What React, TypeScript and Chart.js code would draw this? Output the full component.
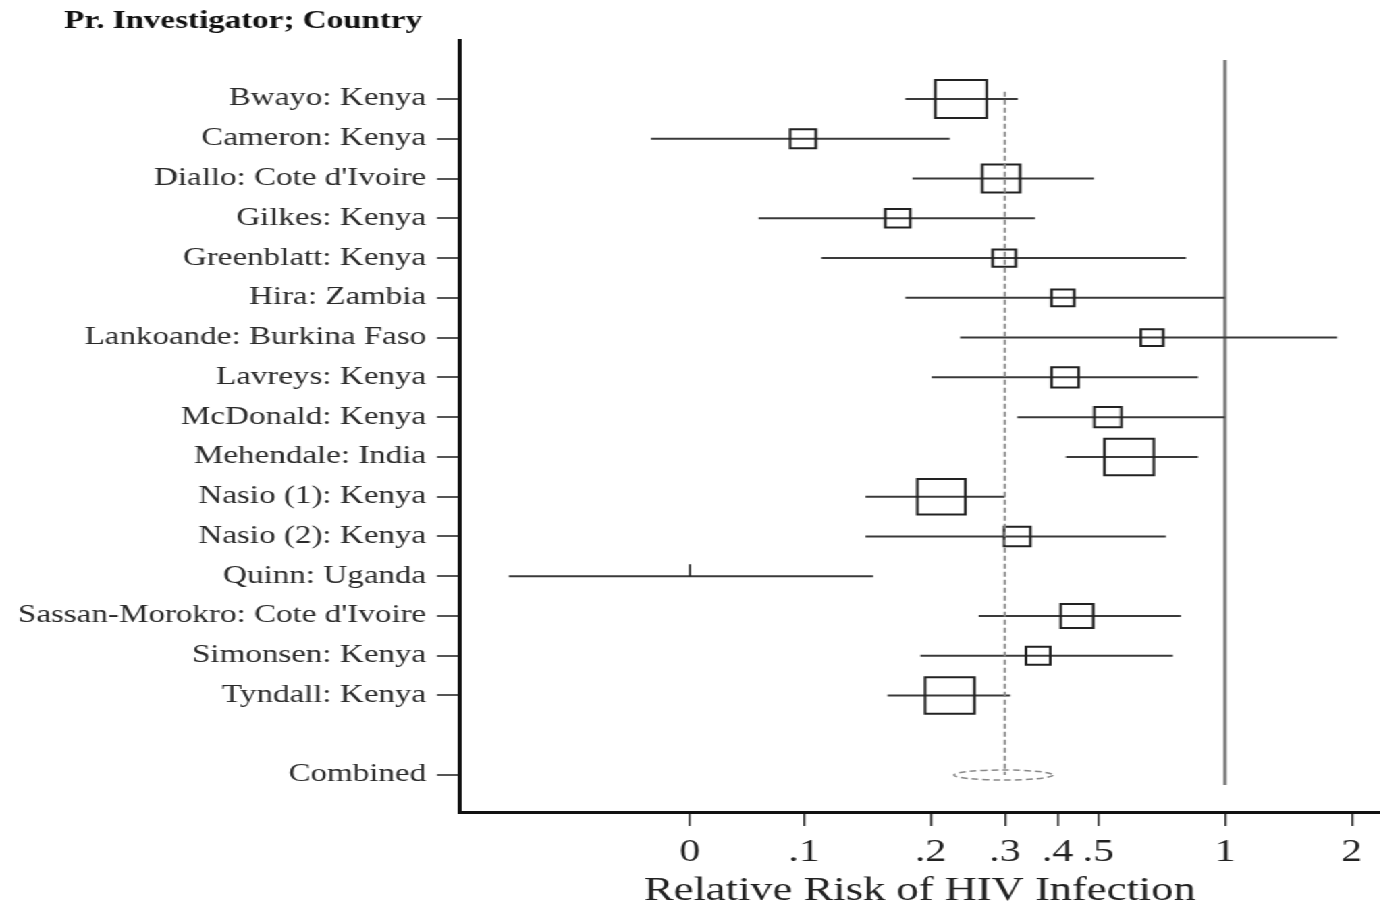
import React, { useEffect, useRef } from "react";
import { Chart, registerables } from "chart.js";

Chart.register(...registerables);

// ---------- data ----------
const studies = [
  "Bwayo: Kenya",
  "Cameron: Kenya",
  "Diallo: Cote d'Ivoire",
  "Gilkes: Kenya",
  "Greenblatt: Kenya",
  "Hira: Zambia",
  "Lankoande: Burkina Faso",
  "Lavreys: Kenya",
  "McDonald: Kenya",
  "Mehendale: India",
  "Nasio (1): Kenya",
  "Nasio (2): Kenya",
  "Quinn: Uganda",
  "Sassan-Morokro: Cote d'Ivoire",
  "Simonsen: Kenya",
  "Tyndall: Kenya",
];
const relRisk = [0.236, 0.0995, 0.294, 0.167, 0.299, 0.412, 0.671, 0.417, 0.527, 0.592, 0.212, 0.321, 0, 0.445, 0.36, 0.222];
const ciLow = [0.174, 0.0433, 0.181, 0.078, 0.11, 0.174, 0.235, 0.201, 0.321, 0.419, 0.14, 0.14, 0.0199, 0.26, 0.189, 0.158];
const ciHigh = [0.322, 0.222, 0.488, 0.354, 0.808, 1.0, 1.845, 0.863, 1.0, 0.863, 0.3, 0.724, 0.146, 0.786, 0.752, 0.309];
const weights = [14.8, 3.7, 8.0, 3.5, 3.0, 2.9, 2.8, 4.1, 4.1, 13.6, 12.9, 3.9, 0.0, 5.9, 3.3, 13.6];

const combinedLabel = "Combined";
const combinedRR = 0.3;
const combinedLow = 0.227;
const combinedHigh = 0.39;

const xTickValues = [0, 0.1, 0.2, 0.3, 0.4, 0.5, 1, 2];
const xTickLabels = ["0", ".1", ".2", ".3", ".4", ".5", "1", "2"];
const ZERO_AT = 0.0536; // where the "0" label sits on the log axis

const headerText = "Pr. Investigator; Country";
const xTitle = "Relative Risk of HIV Infection";

// ---------- helpers ----------
const pos = (v: number) => (v <= 0 ? ZERO_AT : v);
const rowOf = (i: number) => i + 1;
const combinedRow = studies.length + 2;
const rowTicks = [...studies.map((_, i) => rowOf(i)), combinedRow];
const rowLabels = [...studies, combinedLabel];

const S = 1.35; // horizontal stretch of the original figure
const W = Math.round(1380 / S);
const H = 906;
const FONT = "'Liberation Serif', 'Times New Roman', serif";
const BOX_K = 9.9;

const headerPlugin = {
  id: "header",
  afterDraw(chart: any) {
    const { ctx } = chart;
    const yScale = chart.scales.y;
    ctx.save();
    ctx.font = `bold 24.5px ${FONT}`;
    ctx.fillStyle = "#111";
    ctx.textAlign = "right";
    ctx.textBaseline = "alphabetic";
    ctx.fillText(headerText, yScale.right - 28, 28);
    ctx.restore();
  },
};

const combinedPlugin = {
  id: "combinedEllipse",
  afterDatasetsDraw(chart: any) {
    const { ctx } = chart;
    const xs = chart.scales.x;
    const ys = chart.scales.y;
    const x1 = xs.getPixelForValue(combinedLow);
    const x2 = xs.getPixelForValue(combinedHigh);
    const cy = ys.getPixelForValue(combinedRow);
    ctx.save();
    ctx.beginPath();
    ctx.setLineDash([5, 3]);
    ctx.strokeStyle = "#888";
    ctx.lineWidth = 1.5;
    ctx.ellipse((x1 + x2) / 2, cy, (x2 - x1) / 2, 5, 0, 0, Math.PI * 2);
    ctx.stroke();
    ctx.restore();
  },
};

export default function App() {
  const ref = useRef<HTMLCanvasElement | null>(null);

  useEffect(() => {
    if (!ref.current) return;
    Chart.defaults.font.family = FONT;

    const ciSets = studies.map((_, i) => ({
      type: "scatter" as const,
      data: [
        { x: pos(ciLow[i]), y: rowOf(i) },
        { x: pos(ciHigh[i]), y: rowOf(i) },
      ],
      showLine: true,
      borderColor: "#3a3a3a",
      borderWidth: 2,
      pointRadius: 0,
      order: 3,
    }));

    const boxIdx = studies.map((_, i) => i).filter((i) => weights[i] > 0);
    const boxSet = {
      type: "scatter" as const,
      data: boxIdx.map((i) => ({ x: pos(relRisk[i]), y: rowOf(i) })),
      pointStyle: "rect",
      pointRadius: boxIdx.map((i) => (BOX_K * Math.sqrt(weights[i])) / Math.SQRT2),
      backgroundColor: "rgba(0,0,0,0)",
      borderColor: "#222",
      borderWidth: 2,
      order: 2,
    };

    const zeroIdx = studies.map((_, i) => i).filter((i) => weights[i] <= 0);
    const zeroSet = {
      type: "scatter" as const,
      data: zeroIdx.map((i) => ({ x: pos(relRisk[i]), y: rowOf(i) })),
      pointStyle: "dash",
      rotation: -90,
      pointRadius: 12,
      borderColor: "#222",
      borderWidth: 1.6,
      order: 2,
    };

    const nullLine = {
      type: "scatter" as const,
      data: [
        { x: 1, y: 0.02 },
        { x: 1, y: combinedRow + 0.25 },
      ],
      showLine: true,
      borderColor: "#777",
      borderWidth: 2.4,
      pointRadius: 0,
      order: 4,
    };

    const pooledLine = {
      type: "scatter" as const,
      data: [
        { x: combinedRR, y: 0.82 },
        { x: combinedRR, y: combinedRow },
      ],
      showLine: true,
      borderColor: "#888",
      borderWidth: 1.6,
      borderDash: [5, 3],
      pointRadius: 0,
      order: 1,
    };

    const chart = new Chart(ref.current, {
      type: "scatter",
      data: { datasets: [...ciSets, boxSet, zeroSet, nullLine, pooledLine] as any },
      options: {
        responsive: false,
        animation: false,
        events: [],
        layout: { autoPadding: false, padding: { top: 40, left: 0, right: 0, bottom: 0 } },
        plugins: {
          legend: { display: false },
          tooltip: { enabled: false },
          title: { display: false },
        },
        scales: {
          x: {
            type: "logarithmic",
            min: 0.01524,
            max: 2.331,
            afterBuildTicks: (scale: any) => {
              scale.ticks = xTickValues.map((v) => ({ value: pos(v) }));
            },
            afterFit: (scale: any) => {
              scale.height = 94;
            },
            ticks: {
              autoSkip: false,
              maxRotation: 0,
              minRotation: 0,
              padding: 8,
              color: "#222",
              font: { size: 31, family: FONT },
              callback: (_v: any, i: number) => xTickLabels[i],
            },
            grid: {
              display: true,
              drawOnChartArea: false,
              drawTicks: true,
              tickLength: 14,
              color: "#333",
              lineWidth: 1.5,
            },
            border: { display: true, color: "#111", width: 3 },
            title: {
              display: true,
              text: xTitle,
              color: "#222",
              font: { size: 33, family: FONT, lineHeight: 0.9 },
              padding: { top: 0, bottom: 0 },
            },
          },
          y: {
            type: "linear",
            reverse: true,
            min: -0.484,
            max: 18.93,
            afterBuildTicks: (scale: any) => {
              scale.ticks = rowTicks.map((v) => ({ value: v }));
            },
            afterFit: (scale: any) => {
              scale.width = 460 / S;
            },
            ticks: {
              autoSkip: false,
              padding: 8,
              color: "#2a2a2a",
              font: { size: 24.5, family: FONT },
              callback: (_v: any, i: number) => rowLabels[i],
            },
            grid: {
              display: true,
              drawOnChartArea: false,
              drawTicks: true,
              tickLength: 17,
              color: "#555",
              lineWidth: 2,
            },
            border: { display: true, color: "#111", width: 3 },
          },
        },
      },
      plugins: [headerPlugin, combinedPlugin],
    } as any);

    return () => chart.destroy();
  }, []);

  return (
    <div
      style={{
        position: "absolute",
        left: 0,
        top: 0,
        width: W,
        height: H,
        transform: `scaleX(${S})`,
        transformOrigin: "0 0",
        background: "#fff",
      }}
    >
      <canvas ref={ref} width={W} height={H} style={{ display: "block" }} />
    </div>
  );
}
